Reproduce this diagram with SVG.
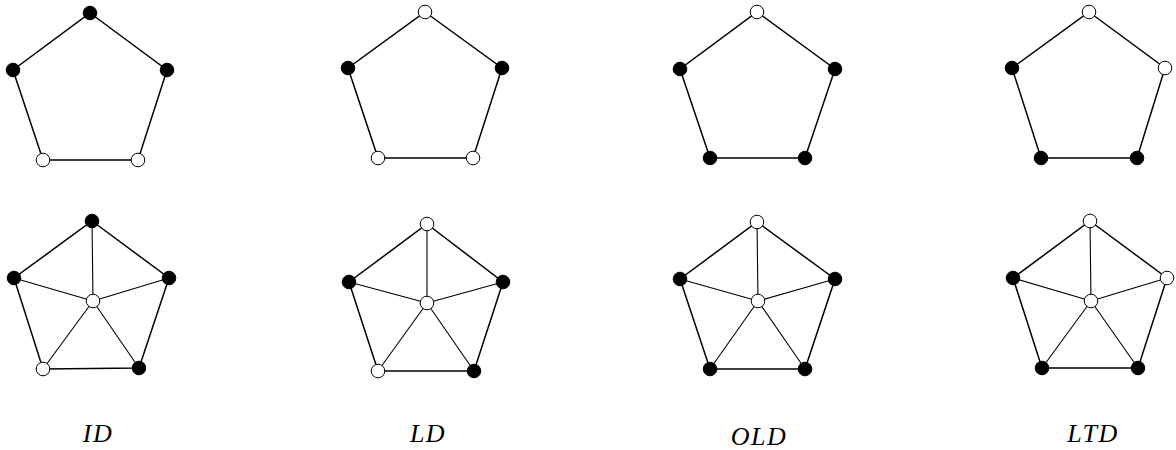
<svg xmlns="http://www.w3.org/2000/svg" width="1176" height="450" viewBox="0 0 1176 450">
<style>
.e{stroke:#000;stroke-width:1.5;fill:none}
.s{stroke:#000;stroke-width:1.1;fill:none}
.b{fill:#000;stroke:#000;stroke-width:1}
.w{fill:#fff;stroke:#000;stroke-width:1}
.t{font-family:"Liberation Serif",serif;font-style:italic;font-size:26px;letter-spacing:1.5px;text-anchor:middle}
</style>
<rect width="1176" height="450" fill="#fff"/>
<g id="connectors">
<polygon class="e" points="90,13 167,70 138,160 43,160 13,70"/>
<polygon class="e" points="425,12 502,68 473,158 378,158 348,68"/>
<polygon class="e" points="757,12 835,69 805,158 710,158 680,69"/>
<polygon class="e" points="1089,12 1165,68 1137,158 1041,158 1012,68"/>
<polygon class="e" points="92,221 169,278 139,368 43,369 14,278"/>
<path class="s" d="M93,301 L92,221 M93,301 L169,278 M93,301 L139,368 M93,301 L43,369 M93,301 L14,278"/>
<polygon class="e" points="427,224 503,282 474,371 378,371 349,282"/>
<path class="s" d="M427,303 L427,224 M427,303 L503,282 M427,303 L474,371 M427,303 L378,371 M427,303 L349,282"/>
<polygon class="e" points="757,222 835,279 805,369 710,369 680,279"/>
<path class="s" d="M758,301 L757,222 M758,301 L835,279 M758,301 L805,369 M758,301 L710,369 M758,301 L680,279"/>
<polygon class="e" points="1090,221 1167,278 1138,368 1042,368 1013,278"/>
<path class="s" d="M1091,301 L1090,221 M1091,301 L1167,278 M1091,301 L1138,368 M1091,301 L1042,368 M1091,301 L1013,278"/>
</g>
<g id="n-id-top-a"><circle class="b" cx="90" cy="13" r="6.8"/></g>
<g id="n-id-top-b"><circle class="b" cx="167" cy="70" r="6.8"/></g>
<g id="n-id-top-c"><circle class="w" cx="138" cy="160" r="6.8"/></g>
<g id="n-id-top-d"><circle class="w" cx="43" cy="160" r="6.8"/></g>
<g id="n-id-top-e"><circle class="b" cx="13" cy="70" r="6.8"/></g>
<g id="n-ld-top-a"><circle class="w" cx="425" cy="12" r="6.8"/></g>
<g id="n-ld-top-b"><circle class="b" cx="502" cy="68" r="6.8"/></g>
<g id="n-ld-top-c"><circle class="w" cx="473" cy="158" r="6.8"/></g>
<g id="n-ld-top-d"><circle class="w" cx="378" cy="158" r="6.8"/></g>
<g id="n-ld-top-e"><circle class="b" cx="348" cy="68" r="6.8"/></g>
<g id="n-old-top-a"><circle class="w" cx="757" cy="12" r="6.8"/></g>
<g id="n-old-top-b"><circle class="b" cx="835" cy="69" r="6.8"/></g>
<g id="n-old-top-c"><circle class="b" cx="805" cy="158" r="6.8"/></g>
<g id="n-old-top-d"><circle class="b" cx="710" cy="158" r="6.8"/></g>
<g id="n-old-top-e"><circle class="b" cx="680" cy="69" r="6.8"/></g>
<g id="n-ltd-top-a"><circle class="w" cx="1089" cy="12" r="6.8"/></g>
<g id="n-ltd-top-b"><circle class="w" cx="1165" cy="68" r="6.8"/></g>
<g id="n-ltd-top-c"><circle class="b" cx="1137" cy="158" r="6.8"/></g>
<g id="n-ltd-top-d"><circle class="b" cx="1041" cy="158" r="6.8"/></g>
<g id="n-ltd-top-e"><circle class="b" cx="1012" cy="68" r="6.8"/></g>
<g id="n-id-bot-a"><circle class="b" cx="92" cy="221" r="6.8"/></g>
<g id="n-id-bot-b"><circle class="b" cx="169" cy="278" r="6.8"/></g>
<g id="n-id-bot-c"><circle class="b" cx="139" cy="368" r="6.8"/></g>
<g id="n-id-bot-d"><circle class="w" cx="43" cy="369" r="6.8"/></g>
<g id="n-id-bot-e"><circle class="b" cx="14" cy="278" r="6.8"/></g>
<g id="n-id-bot-m"><circle class="w" cx="93" cy="301" r="6.8"/></g>
<g id="n-ld-bot-a"><circle class="w" cx="427" cy="224" r="6.8"/></g>
<g id="n-ld-bot-b"><circle class="b" cx="503" cy="282" r="6.8"/></g>
<g id="n-ld-bot-c"><circle class="b" cx="474" cy="371" r="6.8"/></g>
<g id="n-ld-bot-d"><circle class="w" cx="378" cy="371" r="6.8"/></g>
<g id="n-ld-bot-e"><circle class="b" cx="349" cy="282" r="6.8"/></g>
<g id="n-ld-bot-m"><circle class="w" cx="427" cy="303" r="6.8"/></g>
<g id="n-old-bot-a"><circle class="w" cx="757" cy="222" r="6.8"/></g>
<g id="n-old-bot-b"><circle class="b" cx="835" cy="279" r="6.8"/></g>
<g id="n-old-bot-c"><circle class="b" cx="805" cy="369" r="6.8"/></g>
<g id="n-old-bot-d"><circle class="b" cx="710" cy="369" r="6.8"/></g>
<g id="n-old-bot-e"><circle class="b" cx="680" cy="279" r="6.8"/></g>
<g id="n-old-bot-m"><circle class="w" cx="758" cy="301" r="6.8"/></g>
<g id="n-ltd-bot-a"><circle class="w" cx="1090" cy="221" r="6.8"/></g>
<g id="n-ltd-bot-b"><circle class="w" cx="1167" cy="278" r="6.8"/></g>
<g id="n-ltd-bot-c"><circle class="b" cx="1138" cy="368" r="6.8"/></g>
<g id="n-ltd-bot-d"><circle class="b" cx="1042" cy="368" r="6.8"/></g>
<g id="n-ltd-bot-e"><circle class="b" cx="1013" cy="278" r="6.8"/></g>
<g id="n-ltd-bot-m"><circle class="w" cx="1091" cy="301" r="6.8"/></g>
<g id="labels">
<text class="t" x="98" y="442">ID</text>
<text class="t" x="428" y="442">LD</text>
<text class="t" x="759" y="445">OLD</text>
<text class="t" x="1093" y="442">LTD</text>
</g>
</svg>
